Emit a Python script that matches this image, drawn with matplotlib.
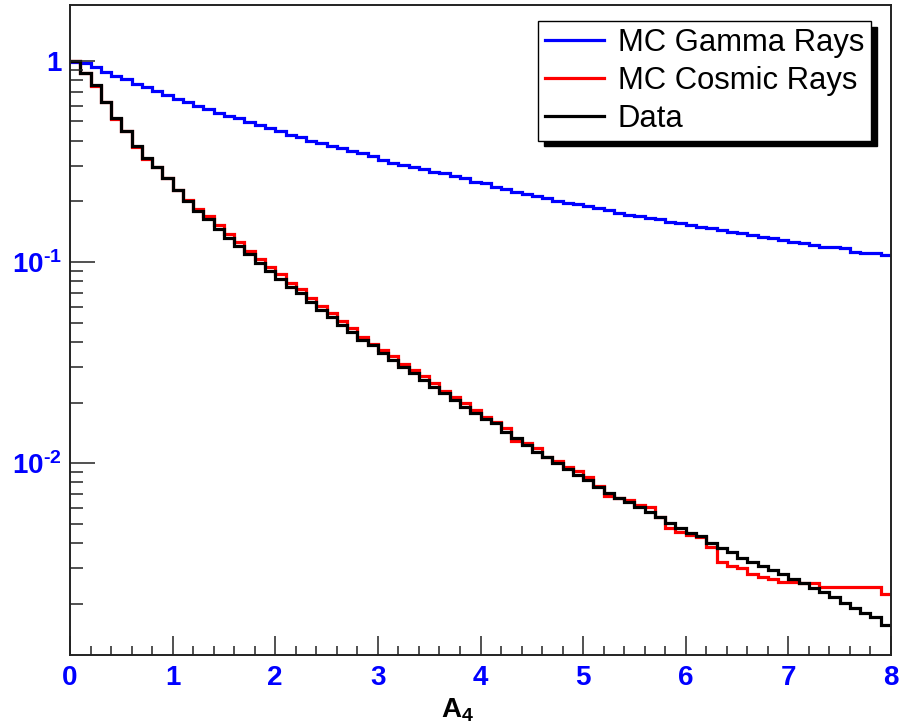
import numpy as np
import matplotlib
matplotlib.use("Agg")
import matplotlib.pyplot as plt
from matplotlib.ticker import FixedLocator, LogLocator, MultipleLocator, NullFormatter

plt.rcParams['font.family'] = ['Liberation Sans', 'DejaVu Sans']
plt.rcParams['mathtext.fontset'] = 'custom'
plt.rcParams['mathtext.rm'] = 'Liberation Sans:bold'
plt.rcParams['mathtext.bf'] = 'Liberation Sans:bold'
plt.rcParams['mathtext.it'] = 'Liberation Sans:bold'
plt.rcParams['mathtext.default'] = 'bf'

# ---- data (80 bins of width 0.1 on A_4 from 0 to 8) ----
bin_edges = np.linspace(0.0, 8.0, 81)

mc_gamma = [
    0.985, 0.974, 0.937, 0.885, 0.842, 0.811, 0.768, 0.740, 0.711, 0.677,
    0.645, 0.627, 0.597, 0.575, 0.553, 0.533, 0.519, 0.499, 0.480, 0.463,
    0.450, 0.428, 0.417, 0.401, 0.392, 0.378, 0.368, 0.358, 0.347, 0.337,
    0.322, 0.312, 0.304, 0.296, 0.289, 0.281, 0.276, 0.268, 0.261, 0.251,
    0.247, 0.235, 0.230, 0.224, 0.218, 0.213, 0.207, 0.202, 0.197, 0.194,
    0.190, 0.185, 0.181, 0.176, 0.171, 0.169, 0.166, 0.163, 0.1587, 0.1558,
    0.1528, 0.1498, 0.1471, 0.1442, 0.1414, 0.1389, 0.1362, 0.1336, 0.1312, 0.1287,
    0.1262, 0.1239, 0.1215, 0.1192, 0.1192, 0.1170, 0.1125, 0.1112, 0.1112, 0.1083,
]

mc_cosmic = [
    1.0, 0.875, 0.752, 0.623, 0.515, 0.448, 0.372, 0.326, 0.298, 0.261,
    0.228, 0.204, 0.184, 0.170, 0.152, 0.138, 0.126, 0.114, 0.1035, 0.0945,
    0.0870, 0.0790, 0.0735, 0.0665, 0.0605, 0.0560, 0.0510, 0.0472, 0.0422, 0.0393,
    0.0364, 0.0340, 0.0312, 0.0290, 0.0271, 0.0250, 0.0228, 0.0213, 0.0199, 0.0184,
    0.0170, 0.01605, 0.01488, 0.01287, 0.01253, 0.01183, 0.01075, 0.01023, 0.00952, 0.00915,
    0.00849, 0.00765, 0.00688, 0.00670, 0.00654, 0.00618, 0.00602, 0.00540, 0.00475, 0.00455,
    0.00438, 0.00428, 0.00383, 0.00323, 0.00306, 0.00302, 0.00281, 0.00272, 0.00264, 0.00257,
    0.00256, 0.00252, 0.00252, 0.00242, 0.00242, 0.00242, 0.00242, 0.00242, 0.00242, 0.00224,
]

data = [
    1.0, 0.875, 0.760, 0.623, 0.522, 0.448, 0.379, 0.330, 0.298, 0.261,
    0.228, 0.202, 0.179, 0.163, 0.146, 0.132, 0.120, 0.109, 0.0986, 0.0902,
    0.0826, 0.0754, 0.0699, 0.0634, 0.0577, 0.0534, 0.0486, 0.0450, 0.0409, 0.0387,
    0.0351, 0.0325, 0.0301, 0.0279, 0.0259, 0.0240, 0.0222, 0.0206, 0.0191, 0.0177,
    0.01655, 0.01576, 0.01431, 0.01327, 0.01229, 0.01138, 0.01075, 0.00997, 0.00930, 0.00872,
    0.00823, 0.00762, 0.00707, 0.00668, 0.00637, 0.00606, 0.00572, 0.00540, 0.00501, 0.00473,
    0.00447, 0.00431, 0.00399, 0.00376, 0.00359, 0.00338, 0.00320, 0.00306, 0.00294, 0.00280,
    0.00264, 0.00253, 0.00238, 0.00227, 0.00215, 0.00201, 0.00190, 0.00179, 0.00171, 0.00156,
]

labels = ["MC Gamma Rays", "MC Cosmic Rays", "Data"]
colors = ["#0000ff", "#ff0000", "#000000"]

x_label = "A$_4$"
x_range = (0, 8)
y_range = (1.109e-3, 1.899)
y_major = [1e-2, 1e-1, 1.0]
y_major_labels = [r"$10^{\text{-}2}$", r"$10^{\text{-}1}$", "1"]

# ---- figure ----
fig = plt.figure(figsize=(9.0, 7.26), dpi=100)
ax = fig.add_axes([70/900, 1-655/726, (891-70)/900, (655-5)/726])

lw = 2.3
for vals, col, lab in zip([mc_gamma, mc_cosmic, data], colors, labels):
    ax.stairs(vals, bin_edges, color=col, linewidth=lw, label=lab, baseline=None)

ax.set_yscale('log')
ax.set_xlim(*x_range)
ax.set_ylim(*y_range)

ax.yaxis.set_major_locator(FixedLocator(y_major))
ax.set_yticklabels(y_major_labels)
ax.yaxis.set_minor_locator(LogLocator(base=10, subs=np.arange(2, 10)))
ax.yaxis.set_minor_formatter(NullFormatter())
ax.xaxis.set_major_locator(MultipleLocator(1))
ax.xaxis.set_minor_locator(MultipleLocator(0.2))

frame_col = '#222222'
for s in ax.spines.values():
    s.set_color(frame_col)
    s.set_linewidth(1.4)

ax.tick_params(axis='y', which='major', direction='in', length=18, width=1.1,
               color=frame_col, labelsize=20, labelcolor='#0000ff', pad=6)
ax.tick_params(axis='y', which='minor', direction='in', length=9.4, width=1.1, color=frame_col)
ax.tick_params(axis='x', which='major', direction='in', length=13.7, width=1.1,
               color=frame_col, labelsize=20, labelcolor='#0000ff', pad=7)
ax.tick_params(axis='x', which='minor', direction='in', length=6.5, width=1.1, color=frame_col)
for t in ax.get_xticklabels():
    t.set_fontweight('bold')
for t in ax.get_yticklabels():
    t.set_fontweight('bold')

ax.set_xlabel(x_label, fontsize=20, fontweight='bold', labelpad=0, va='top')
ax.xaxis.set_label_coords((458-70)/(891-70), -(697-655)/650)

leg = ax.legend(loc='upper right', bbox_to_anchor=(871/900, 1-21/726),
                bbox_transform=fig.transFigure, fontsize=22.3, frameon=True,
                fancybox=False, edgecolor='black', framealpha=1,
                shadow={'ox': 4, 'oy': -4, 'color': 'black', 'alpha': 1},
                handlelength=1.9, handletextpad=0.45, labelspacing=0.26,
                borderpad=0.22, borderaxespad=0)
leg.get_frame().set_linewidth(1.0)
for line in leg.get_lines():
    line.set_linewidth(2.3)

fig.savefig("out.png", dpi=100)
